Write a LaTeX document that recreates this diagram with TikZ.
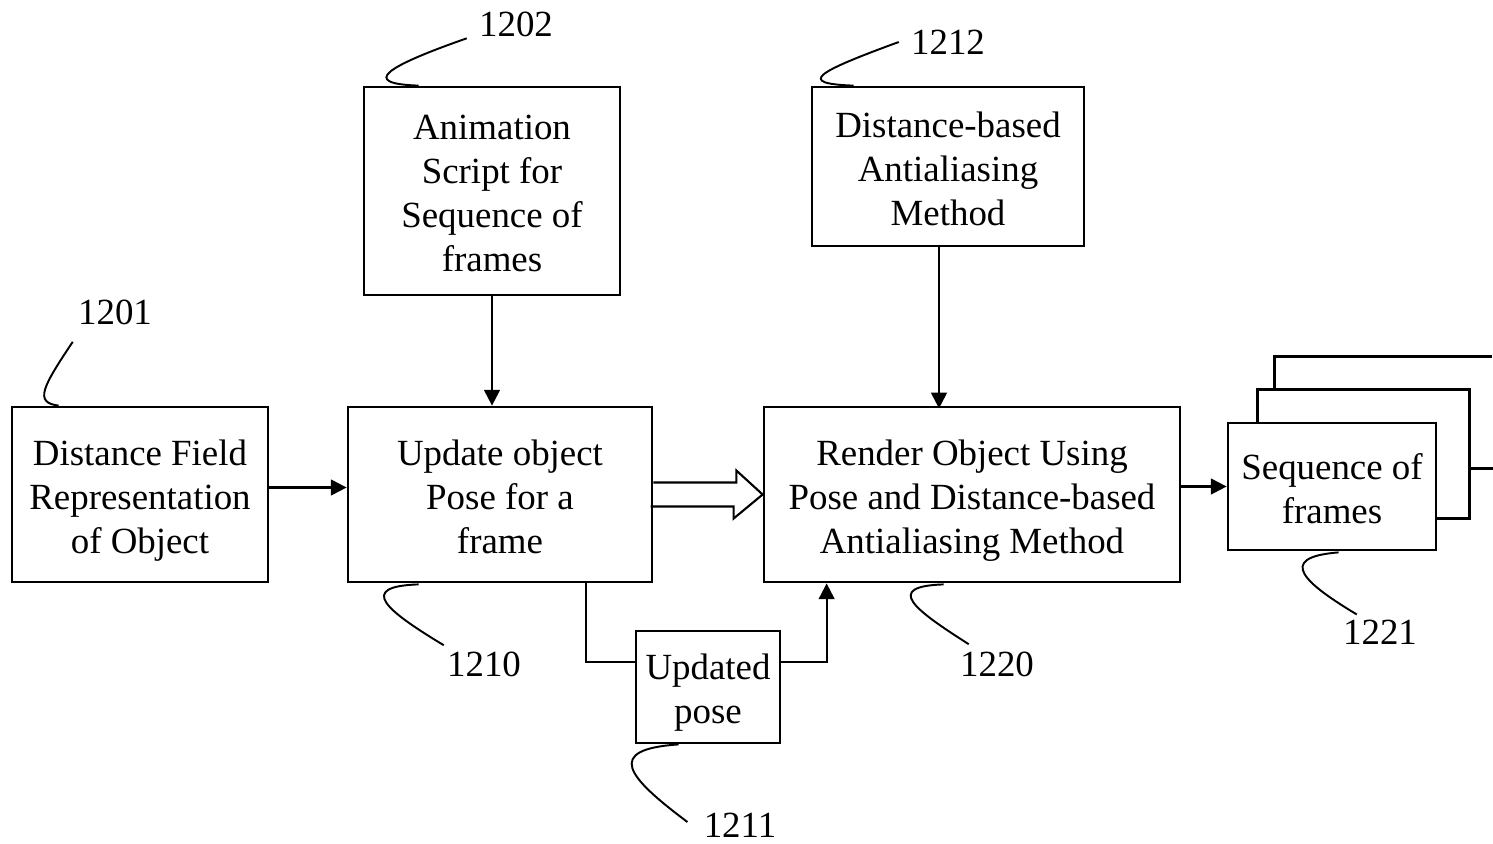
\documentclass[tikz,border=0pt]{standalone}
\usepackage{fontspec}
\setmainfont{Liberation Serif}
\usetikzlibrary{arrows.meta,calc}
\newcommand{\blk}[1]{\raisebox{-3.3pt}[\height][\depth]{\begin{tabular}{@{}c@{}}#1\end{tabular}}}
\begin{document}
\begin{tikzpicture}[x=0.02cm,y=-0.02cm,
    blockbox/.style={draw,line width=1.6pt,inner sep=0pt,
      font=\fontsize{21}{25}\selectfont},
    flow/.style={line width=1.2pt,-{Triangle[length=9pt,width=9pt]}},
    leader/.style={line width=1.1pt},
    tag/.style={inner sep=0pt,font=\fontsize{21}{25}\selectfont}]
  \useasboundingbox (0,0) rectangle (1493,843);
  % blocks
  \node[blockbox,minimum width=5.12cm,minimum height=3.5cm] (field) at (140,494.5)
    {\blk{Distance Field\\Representation\\of Object}};
  \node[blockbox,minimum width=5.12cm,minimum height=4.16cm] (script) at (492,191)
    {\blk{Animation\\Script for\\Sequence of\\frames}};
  \node[blockbox,minimum width=6.08cm,minimum height=3.5cm] (update) at (500,494.5)
    {\blk{Update object\\Pose for a\\frame}};
  \node[blockbox,minimum width=5.44cm,minimum height=3.18cm] (method) at (948,166.5)
    {\blk{Distance-based\\Antialiasing\\Method}};
  \node[blockbox,minimum width=8.32cm,minimum height=3.5cm] (render) at (972,494.5)
    {\blk{Render Object Using\\Pose and Distance-based\\Antialiasing Method}};
  \node[blockbox,minimum width=2.88cm,minimum height=2.24cm] (pose) at (708,687)
    {\blk{Updated\\pose}};
  \node[blockbox,minimum width=4.16cm,minimum height=2.54cm] (frames) at (1332,486.5)
    {\blk{Sequence of\\frames}};
  % frames behind
  \draw[line width=1.6pt] ($(frames.north west)+(31,0)$) |- ($(frames.north east)+(32,-32)$)
    |- ($(frames.south east)+(0,-33)$);
  \draw[line width=1.6pt] ($(frames.north west)+(48,-32)$) |- ++(217,-33);
  \draw[line width=1.6pt] ($(frames.north east)+(32,47)$) -- ++(25,0);
  % connectors
  \draw[flow] ($(field.east)+(0,-7)$) -- ($(update.west)+(0,-7)$);
  \draw[flow] (script.south) -- (script.south |- update.north);
  \draw[flow] ($(method.south)+(-9,0)$) -- ++(0,161);
  \draw[flow] (render.east |- frames.west) -- (frames.west);
  \draw[line width=1.2pt,line join=miter] ($(update.east)+(0,-12)$) -- ++(83,0) -- ++(0,-12)
    -- (render.west) -- ++(-29,24) -- ++(0,-12) -- ++(-83,0);
  \draw[line width=1.2pt] ($(update.south west)+(239,0)$) |- ($(pose.west)+(0,-25)$);
  \draw[flow] ($(pose.east)+(0,-25)$) -| ($(render.south west)+(64,0)$);
  % reference numerals
  \node[tag] (l1201) at (115,312) {1201};
  \node[tag] (l1202) at (516,24.5) {1202};
  \node[tag] (l1212) at (948,42) {1212};
  \node[tag] (l1210) at (484,664) {1210};
  \node[tag] (l1220) at (997,664) {1220};
  \node[tag] (l1211) at (740,825) {1211};
  \node[tag] (l1221) at (1380,632) {1221};
  \draw[leader] ($(field.north west)+(48,0)$) .. controls +(-25,-3) and +(-30,45)
    .. ($(l1201.south west)+(-5,17)$);
  \draw[leader] ($(script.north west)+(56,0)$) .. controls +(-60,-2) and +(-80,28)
    .. ($(l1202.south west)+(-12,1)$);
  \draw[leader] ($(method.north west)+(43,0)$) .. controls +(-58,-2) and +(-82,30)
    .. ($(l1212.west)+(-12,0)$);
  \draw[leader] ($(update.south west)+(72,1)$) .. controls +(-62,2) and +(-58,-35)
    .. ($(l1210.north west)+(-3,-6)$);
  \draw[leader] ($(render.south west)+(181,1)$) .. controls +(-60,2) and +(-55,-35)
    .. ($(l1220.north west)+(9,-7)$);
  \draw[leader] ($(pose.south west)+(44,0)$) .. controls +(-75,5) and +(-60,-45)
    .. ($(l1211.west)+(-16,-3)$);
  \draw[leader] ($(frames.south west)+(112,1)$) .. controls +(-65,5) and +(-50,-30)
    .. ($(l1221.north west)+(14,-5)$);
\end{tikzpicture}
\end{document}
